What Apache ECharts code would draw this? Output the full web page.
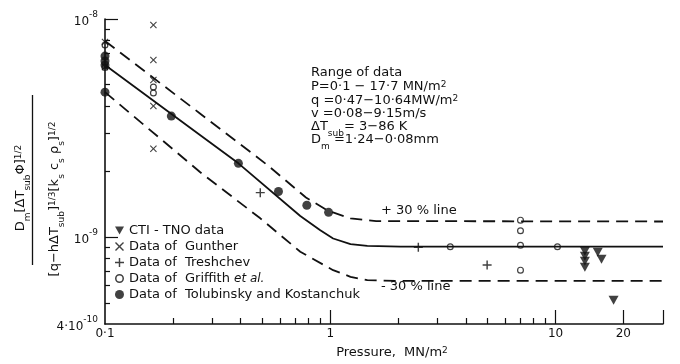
<!DOCTYPE html>
<html lang="en">
<head>
<meta charset="UTF-8">
<title>Bubble departure diameter correlation</title>
<script src="https://cdn.jsdelivr.net/npm/echarts@6/dist/echarts.min.js"></script>
<style>
  html, body { margin: 0; padding: 0; background: #fff; }
  #main { width: 680px; height: 364px; }
</style>
</head>
<body>
<div id="main"></div>
<script>
// correlation line and the +/-30 % band, pressure in MN/m2
const solidP = [0.1, 0.264, 0.391, 0.736, 0.903, 1.03, 1.23, 1.46, 2.05, 30];
const solidY = [6.15e-9, 2.94e-9, 2.18e-9, 1.25e-9, 1.076e-9, 0.986e-9, 0.929e-9, 0.912e-9, 0.905e-9, 0.905e-9];
const upperP = [0.1, 0.264, 0.523, 0.78, 0.98, 1.23, 1.6, 30];
const upperY = [7.93e-9, 3.69e-9, 2.15e-9, 1.52e-9, 1.32e-9, 1.22e-9, 1.185e-9, 1.18e-9];
const lowerP = [0.1, 0.264, 0.489, 0.736, 1.03, 1.23, 1.46, 2.0, 30];
const lowerY = [4.62e-9, 1.99e-9, 1.22e-9, 0.857e-9, 0.706e-9, 0.658e-9, 0.635e-9, 0.63e-9, 0.63e-9];

// measured points [pressure, value]
const ctiTno = [[13.5, 0.863e-9], [13.5, 0.818e-9], [13.5, 0.776e-9], [13.5, 0.728e-9],
                [15.4, 0.853e-9], [16.0, 0.792e-9], [18.1, 0.514e-9]];
const gunther = [[0.1, 7.84e-9], [0.1, 6.02e-9], [0.164, 9.39e-9], [0.164, 6.49e-9],
                 [0.164, 5.25e-9], [0.164, 3.99e-9], [0.164, 2.54e-9]];
const treshchev = [[0.489, 1.60e-9], [2.46, 0.90e-9], [4.97, 0.745e-9]];
const griffith = [[0.1, 7.60e-9], [0.1, 6.0e-9], [0.164, 4.88e-9], [0.164, 4.58e-9],
                  [3.41, 0.904e-9], [6.99, 1.197e-9], [6.99, 1.07e-9], [6.99, 0.918e-9],
                  [6.99, 0.706e-9], [10.2, 0.904e-9]];
const tolubinsky = [[0.1, 6.76e-9], [0.1, 6.42e-9], [0.1, 6.15e-9], [0.1, 4.62e-9],
                    [0.197, 3.59e-9], [0.391, 2.18e-9], [0.589, 1.62e-9], [0.787, 1.40e-9],
                    [0.983, 1.30e-9]];

// axis ticks and labels
const xMajorTicks = [1, 10, 20, 30];
const xMinorTicks = [0.2, 0.3, 0.4, 0.5, 0.6, 0.7, 0.8, 0.9, 2, 3, 4, 5, 6, 7, 8, 9];
const xLabelValues = [0.1, 1, 10, 20];
const xLabelText = ['0·1', '1', '10', '20'];
const yMajorTicks = [1e-9, 1e-8];
const yMinorTicks = [5e-10, 6e-10, 7e-10, 8e-10, 9e-10, 2e-9, 3e-9, 4e-9, 5e-9, 6e-9, 7e-9, 8e-9, 9e-9];
const yLabelValues = [4e-10, 1e-9, 1e-8];
const yLabelText = ['{n|4·10}{e|-10}', '{n|10}{e|-9}', '{n|10}{e|-8}'];

const legendNames = ['CTI - TNO data', 'Data of  Gunther', 'Data of  Treshchev',
                     'Data of  Griffith', 'Data of  Tolubinsky and Kostanchuk'];

const FONT = 'DejaVu Sans';
const INK = '#111';
const plusPath = 'path://M4.2,0H5.8V4.2H10V5.8H5.8V10H4.2V5.8H0V4.2H4.2Z';
const crossPath = 'path://M0,1.1L1.1,0L5,3.9L8.9,0L10,1.1L6.1,5L10,8.9L8.9,10L5,6.1L1.1,10L0,8.9L3.9,5Z';
const downTriPath = 'path://M0,0L10,0L5,9Z';
const ringPath = 'path://M0,5A5,5 0 1,1 10,5A5,5 0 1,1 0,5ZM1.7,5A3.3,3.3 0 1,0 8.3,5A3.3,3.3 0 1,0 1.7,5Z';

function pickLabel(values, texts, v) {
  for (let i = 0; i < values.length; i++) {
    if (Math.abs(Math.log10(v) - Math.log10(values[i])) < 1e-6) return texts[i];
  }
  return '';
}
function pairs(xs, ys) { return xs.map((x, i) => [x, ys[i]]); }

const chart = echarts.init(document.getElementById('main'));

const sup = { fontSize: 9, lineHeight: 10, verticalAlign: 'top', fontFamily: FONT, fill: INK };
const sub = { fontSize: 9, lineHeight: 10, verticalAlign: 'bottom', fontFamily: FONT, fill: INK };
const base = { fontSize: 13, lineHeight: 18, verticalAlign: 'top', fontFamily: FONT, fill: INK };
const richG = { b: base, sub: sub, sup: sup };

function note(x, y, text) {
  return {
    type: 'text', x: x, y: y, z: 10,
    style: { text: text, rich: richG, fill: INK, font: '13px ' + FONT,
             align: 'left', verticalAlign: 'middle' }
  };
}

const lineBase = { type: 'line', symbol: 'none', smooth: false,
                   silent: true, z: 2, xAxisIndex: 0, yAxisIndex: 0 };

function logAxis(min, max, pos, ticks, len, extra) {
  return Object.assign({
    type: 'log', logBase: 10, min: min, max: max, position: pos, offset: 0,
    axisLine: { show: false },
    axisTick: { show: true, inside: true, length: len, customValues: ticks,
                lineStyle: { color: INK, width: 1.2 } },
    minorTick: { show: false },
    axisLabel: { show: false },
    splitLine: { show: false },
    minorSplitLine: { show: false }
  }, extra || {});
}

const option = {
  animation: false,
  backgroundColor: '#fff',
  grid: { left: 105, right: 17, top: 19, bottom: 40 },
  xAxis: [
    logAxis(0.1, 30, 'bottom', xMajorTicks, 14, {
      axisLine: { show: true, lineStyle: { color: INK, width: 1.6 } },
      axisLabel: { show: true, customValues: xLabelValues, color: INK, fontFamily: FONT, fontSize: 12, margin: 4,
                   formatter: v => pickLabel(xLabelValues, xLabelText, v) }
    }),
    logAxis(0.1, 30, 'bottom', xMinorTicks, 6)
  ],
  yAxis: [
    logAxis(4e-10, 1e-8, 'left', yMajorTicks, 13, {
      axisLine: { show: true, lineStyle: { color: INK, width: 1.6 } },
      axisLabel: {
        show: true, customValues: yLabelValues, margin: 7,
        formatter: v => pickLabel(yLabelValues, yLabelText, v),
        rich: {
          n: { fontSize: 12, fontFamily: FONT, color: INK, lineHeight: 18, verticalAlign: 'bottom' },
          e: { fontSize: 9, fontFamily: FONT, color: INK, lineHeight: 10, verticalAlign: 'top' }
        }
      }
    }),
    logAxis(4e-10, 1e-8, 'left', yMinorTicks, 5)
  ],
  legend: {
    orient: 'vertical', left: 110, top: 219,
    itemWidth: 9, itemHeight: 9, itemGap: 3,
    data: [
      { name: legendNames[0] },
      { name: legendNames[1] },
      { name: legendNames[2] },
      { name: legendNames[3], itemStyle: { color: INK } },
      { name: legendNames[4] }
    ],
    textStyle: {
      color: INK, fontFamily: FONT, fontSize: 13, lineHeight: 12,
      rich: { i: { fontStyle: 'italic', fontSize: 12, fontFamily: FONT, color: INK } }
    },
    formatter: name => name === legendNames[3] ? name + ' {i|et al.}' : name
  },
  series: [
    Object.assign({ name: 'correlation', data: pairs(solidP, solidY),
                    lineStyle: { color: INK, width: 1.8 } }, lineBase),
    Object.assign({ name: '+30 %', data: pairs(upperP, upperY),
                    lineStyle: { color: INK, width: 1.8, type: [12, 7] } }, lineBase),
    Object.assign({ name: '-30 %', data: pairs(lowerP, lowerY),
                    lineStyle: { color: INK, width: 1.8, type: [12, 7] } }, lineBase),
    { type: 'scatter', name: legendNames[0], data: ctiTno, symbol: downTriPath,
      symbolSize: [10, 9], itemStyle: { color: INK }, clip: false, z: 5 },
    { type: 'scatter', name: legendNames[1], data: gunther, symbol: crossPath,
      symbolSize: 7, itemStyle: { color: INK }, clip: false, z: 5 },
    { type: 'scatter', name: legendNames[2], data: treshchev, symbol: plusPath,
      symbolSize: 9, itemStyle: { color: INK }, clip: false, z: 5 },
    { type: 'scatter', name: legendNames[3], data: griffith, symbol: ringPath,
      symbolSize: 7, itemStyle: { color: INK }, clip: false, z: 6 },
    { type: 'scatter', name: legendNames[4], data: tolubinsky, symbol: 'circle',
      symbolSize: 9, itemStyle: { color: INK }, clip: false, z: 5 }
  ],
  graphic: [
    // y-axis quantity, written as a fraction
    { type: 'text', x: 23, y: 188, rotation: Math.PI / 2,
      style: { text: '{b|D}{sub|m}{b|[ΔT}{sub|sub}{b|Φ]}{sup|1/2}', rich: richG,
               align: 'center', verticalAlign: 'middle', font: '13px ' + FONT, fill: INK } },
    { type: 'line', shape: { x1: 32.5, y1: 95, x2: 32.5, y2: 265 },
      style: { stroke: INK, lineWidth: 1.3 } },
    { type: 'text', x: 57, y: 199, rotation: Math.PI / 2,
      style: { text: '{b|[q−hΔT}{sub|sub}{b|]}{sup|1/3}{b|[k}{sub|s}{b| c}{sub|s}{b| ρ}{sub|s}{b|]}{sup|1/2}',
               rich: richG, align: 'center', verticalAlign: 'middle', font: '13px ' + FONT, fill: INK } },
    // range of data
    note(311, 75, '{b|Range of data}'),
    note(311, 89, '{b|P=0·1 − 17·7 MN/m}{sup|2}'),
    note(311, 103, '{b|q =0·47−10·64MW/m}{sup|2}'),
    note(311, 116, '{b|v =0·08−9·15m/s}'),
    note(311, 129, '{b|ΔT}{sub|sub}{b|= 3−86 K}'),
    note(311, 142, '{b|D}{sub|m}{b| =1·24−0·08mm}'),
    // band labels
    note(381, 213, '{b|+ 30 % line}'),
    note(381, 289, '{b|- 30 % line}'),
    // x-axis title
    { type: 'text', x: 392, y: 355,
      style: { text: '{b|Pressure,  MN/m}{sup|2}', rich: richG, align: 'center', verticalAlign: 'middle',
               font: '13px ' + FONT, fill: INK } }
  ]
};

chart.setOption(option);
</script>
</body>
</html>
